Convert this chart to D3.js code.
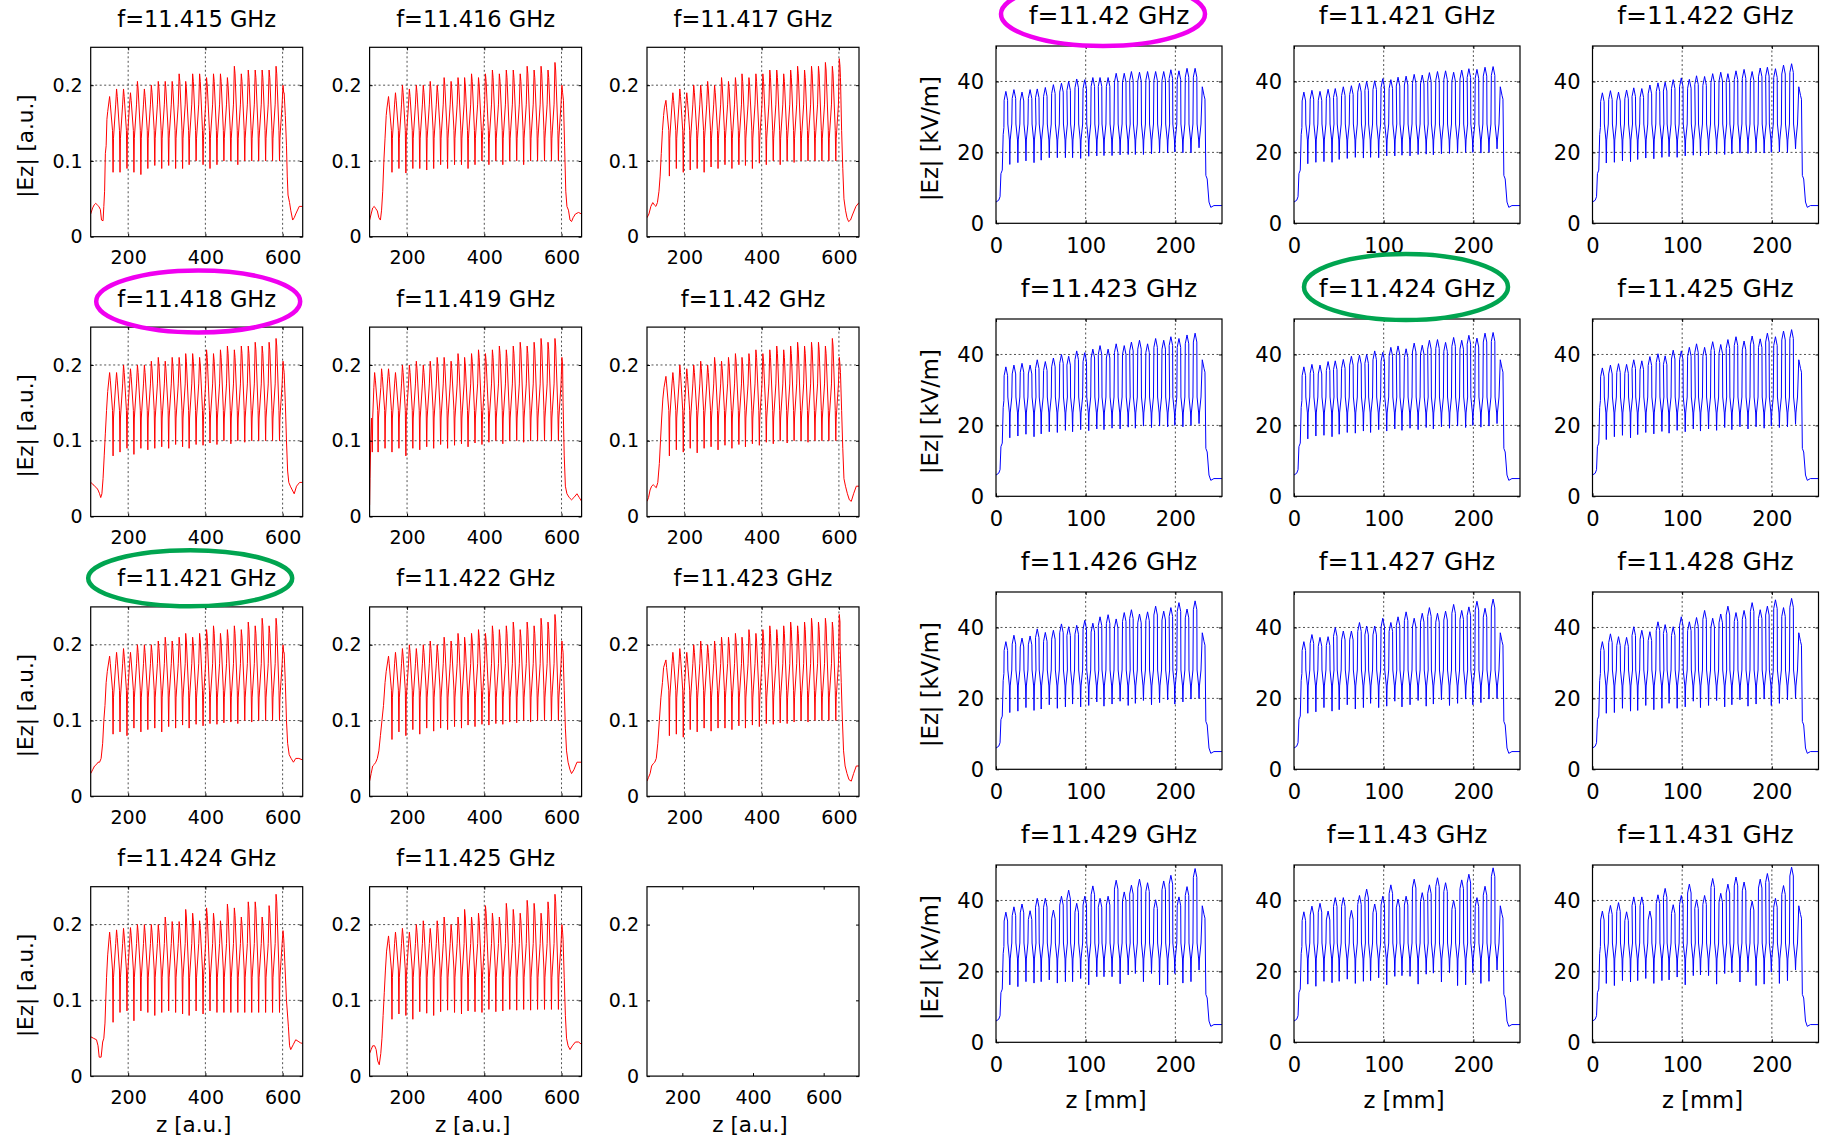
<!DOCTYPE html>
<html><head><meta charset="utf-8">
<script src="https://cdn.jsdelivr.net/npm/d3@7"></script>
<style>
body{margin:0;background:#fff;}
svg{display:block;font-family:"DejaVu Sans",sans-serif;}
</style></head><body>
<svg id="c" width="1828" height="1139"></svg>
<script>
// ---------------- DATA ----------------
const leftFreqs  = [11.415, 11.416, 11.417, 11.418, 11.419, 11.42, 11.421, 11.422, 11.423, 11.424, 11.425];
const rightFreqs = [11.42, 11.421, 11.422, 11.423, 11.424, 11.425, 11.426, 11.427, 11.428, 11.429, 11.43, 11.431];
const leftXTicks = [200, 400, 600];
const leftYTicks = [0, 0.1, 0.2];
const rightXTicks = [0, 100, 200];
const rightYTicks = [0, 20, 40];
const leftXDomain = [103, 652];
const emptyXDomain = [100, 700];
const leftYDomain = [0, 0.25];
const rightXDomain = [0, 252];
const rightYDomain = [0, 50];
const leftHighlights = {"11.418": "#f000f0", "11.421": "#00a550"};
const rightHighlights = {"11.42": "#f000f0", "11.424": "#00a550"};

// z positions of the field peaks (cells)
const redPeakZ  = [152,170,188,206,224,242,260,278,296,314,332,349,367,385,403,421,439,457,475,493,511,529,547,565,583,601];
const bluePeakZ = [11,20,29,38,46,55,64,73,81,90,99,108,116,125,134,143,151,160,169,178,187,195,204,213,222];

const redPeaks = [
 [0.185,0.195,0.195,0.19,0.205,0.195,0.2,0.205,0.205,0.205,0.215,0.205,0.215,0.215,0.21,0.215,0.215,0.21,0.225,0.215,0.22,0.22,0.22,0.22,0.225,0.2],
 [0.185,0.19,0.2,0.195,0.2,0.2,0.205,0.2,0.21,0.205,0.21,0.21,0.215,0.21,0.215,0.22,0.215,0.22,0.22,0.215,0.225,0.22,0.225,0.22,0.23,0.2],
 [0.18,0.19,0.195,0.19,0.2,0.2,0.205,0.2,0.21,0.205,0.21,0.215,0.21,0.215,0.215,0.22,0.22,0.215,0.22,0.225,0.22,0.225,0.225,0.23,0.225,0.235],
 [0.19,0.19,0.2,0.195,0.2,0.2,0.205,0.21,0.205,0.21,0.21,0.215,0.215,0.21,0.22,0.215,0.22,0.225,0.22,0.225,0.225,0.23,0.225,0.23,0.235,0.205],
 [0.195,0.19,0.2,0.2,0.205,0.2,0.205,0.21,0.21,0.205,0.215,0.21,0.215,0.22,0.215,0.22,0.225,0.22,0.225,0.23,0.225,0.23,0.235,0.23,0.235,0.21],
 [0.185,0.19,0.2,0.195,0.2,0.205,0.2,0.21,0.205,0.21,0.215,0.21,0.215,0.22,0.215,0.22,0.225,0.22,0.225,0.23,0.225,0.23,0.23,0.225,0.235,0.21],
 [0.185,0.19,0.195,0.19,0.2,0.2,0.2,0.205,0.21,0.205,0.21,0.215,0.21,0.215,0.22,0.225,0.215,0.22,0.225,0.22,0.23,0.225,0.235,0.225,0.235,0.2],
 [0.185,0.19,0.195,0.2,0.195,0.2,0.205,0.2,0.21,0.205,0.215,0.21,0.215,0.22,0.215,0.225,0.22,0.225,0.23,0.22,0.23,0.225,0.235,0.23,0.24,0.205],
 [0.18,0.19,0.195,0.19,0.2,0.205,0.2,0.205,0.21,0.21,0.215,0.21,0.22,0.215,0.22,0.225,0.22,0.225,0.23,0.225,0.23,0.235,0.23,0.235,0.23,0.24],
 [0.19,0.193,0.195,0.196,0.2,0.2,0.2,0.2,0.21,0.204,0.204,0.22,0.215,0.205,0.222,0.215,0.205,0.227,0.222,0.21,0.23,0.23,0.21,0.225,0.24,0.192],
 [0.185,0.19,0.195,0.19,0.2,0.205,0.195,0.205,0.21,0.2,0.21,0.22,0.21,0.215,0.225,0.215,0.21,0.228,0.22,0.215,0.232,0.228,0.215,0.23,0.24,0.2]
];
const redTroughs = [
 [0.085,0.085,0.09,0.085,0.082,0.09,0.094,0.09,0.094,0.09,0.09,0.095,0.1,0.095,0.09,0.095,0.1,0.1,0.095,0.1,0.1,0.1,0.1,0.1,0.1],
 [0.085,0.09,0.084,0.09,0.09,0.088,0.09,0.095,0.09,0.095,0.095,0.09,0.095,0.1,0.095,0.1,0.095,0.1,0.1,0.095,0.1,0.1,0.1,0.1,0.1],
 [0.08,0.09,0.085,0.088,0.09,0.085,0.092,0.09,0.095,0.09,0.095,0.094,0.09,0.097,0.095,0.1,0.095,0.1,0.098,0.1,0.1,0.1,0.1,0.1,0.1],
 [0.08,0.085,0.09,0.082,0.09,0.088,0.09,0.092,0.09,0.095,0.092,0.09,0.095,0.094,0.097,0.095,0.1,0.096,0.1,0.098,0.1,0.1,0.1,0.1,0.1],
 [0.085,0.09,0.08,0.09,0.088,0.092,0.09,0.095,0.09,0.094,0.096,0.092,0.097,0.095,0.098,0.1,0.096,0.1,0.1,0.098,0.1,0.1,0.1,0.1,0.1],
 [0.08,0.088,0.085,0.09,0.084,0.09,0.092,0.088,0.094,0.09,0.095,0.092,0.096,0.094,0.098,0.096,0.1,0.097,0.1,0.1,0.098,0.1,0.1,0.1,0.1],
 [0.082,0.085,0.08,0.09,0.085,0.088,0.09,0.085,0.092,0.09,0.094,0.09,0.095,0.093,0.096,0.095,0.097,0.098,0.096,0.1,0.098,0.1,0.1,0.1,0.1],
 [0.075,0.085,0.08,0.088,0.082,0.09,0.086,0.09,0.088,0.092,0.09,0.094,0.092,0.095,0.094,0.096,0.095,0.098,0.097,0.1,0.098,0.1,0.1,0.1,0.1],
 [0.08,0.082,0.078,0.088,0.085,0.09,0.086,0.09,0.09,0.088,0.093,0.09,0.094,0.092,0.096,0.095,0.097,0.096,0.098,0.1,0.098,0.1,0.1,0.1,0.1],
 [0.071,0.084,0.086,0.073,0.086,0.084,0.08,0.084,0.086,0.084,0.082,0.08,0.086,0.082,0.086,0.084,0.084,0.084,0.084,0.084,0.084,0.084,0.084,0.084,0.084],
 [0.075,0.082,0.08,0.075,0.085,0.083,0.08,0.085,0.087,0.084,0.082,0.086,0.085,0.084,0.088,0.085,0.086,0.088,0.087,0.088,0.087,0.088,0.088,0.088,0.088]
];
const redHeads = [
 [[103,0.03],[108,0.038],[112,0.042],[116,0.044],[120,0.042],[124,0.04],[128,0.036],[131,0.022],[135,0.021],[137,0.04],[139,0.06],[141,0.11],[143,0.12],[145,0.155],[147,0.165]],
 [[103,0.022],[107,0.03],[111,0.038],[115,0.04],[119,0.037],[123,0.034],[127,0.025],[131,0.022],[134,0.035],[137,0.06],[140,0.1],[143,0.13],[146,0.16],[148,0.17]],
 [[103,0.025],[108,0.03],[113,0.04],[118,0.045],[122,0.042],[126,0.04],[130,0.045],[134,0.06],[137,0.08],[140,0.11],[143,0.14],[146,0.16],[148,0.17]],
 [[103,0.045],[108,0.043],[113,0.04],[118,0.038],[122,0.035],[126,0.03],[129,0.025],[132,0.03],[135,0.05],[138,0.08],[141,0.11],[144,0.14],[147,0.165]],
 [[103,0.015],[104,0.05],[106,0.1],[108,0.13],[110,0.085],[111,0.13],[114,0.17],[116,0.19],[118,0.18],[124,0.14],[125,0.085],[126,0.13],[132,0.17],[134,0.195],[136,0.185],[142,0.14],[143,0.09],[144,0.13],[149,0.175]],
 [[103,0.02],[107,0.025],[111,0.035],[115,0.04],[119,0.042],[123,0.04],[127,0.038],[131,0.045],[135,0.07],[138,0.1],[141,0.13],[144,0.155],[147,0.17]],
 [[103,0.03],[108,0.035],[113,0.04],[118,0.042],[122,0.045],[126,0.045],[130,0.05],[134,0.07],[137,0.1],[140,0.12],[143,0.15],[146,0.165]],
 [[103,0.02],[107,0.03],[111,0.04],[115,0.042],[119,0.045],[123,0.05],[127,0.06],[131,0.08],[135,0.1],[139,0.12],[143,0.15],[146,0.165]],
 [[103,0.02],[107,0.025],[111,0.03],[115,0.04],[119,0.043],[123,0.045],[127,0.05],[131,0.07],[135,0.1],[139,0.13],[143,0.15],[146,0.17]],
 [[103,0.052],[110,0.05],[118,0.048],[122,0.04],[125,0.025],[130,0.025],[134,0.045],[137,0.05],[140,0.07],[142,0.1],[144,0.13],[147,0.16]],
 [[103,0.03],[107,0.035],[111,0.04],[116,0.04],[120,0.035],[124,0.02],[128,0.015],[132,0.03],[135,0.05],[138,0.08],[141,0.11],[144,0.14],[147,0.165]]
];
const redTails = [
 [[604,0.19],[607,0.16],[610,0.12],[612,0.08],[614,0.055],[618,0.045],[621,0.035],[626,0.022],[630,0.025],[634,0.03],[643,0.04],[652,0.04]],
 [[605,0.18],[608,0.12],[611,0.06],[614,0.04],[618,0.035],[622,0.022],[626,0.02],[630,0.025],[636,0.03],[644,0.032],[652,0.03]],
 [[604,0.21],[607,0.14],[610,0.09],[613,0.05],[617,0.035],[621,0.025],[625,0.02],[630,0.022],[636,0.03],[644,0.04],[652,0.045]],
 [[604,0.19],[607,0.15],[610,0.1],[613,0.06],[616,0.045],[620,0.04],[625,0.035],[630,0.03],[636,0.04],[644,0.045],[652,0.045]],
 [[604,0.15],[607,0.08],[610,0.04],[614,0.03],[620,0.025],[626,0.022],[632,0.025],[640,0.03],[646,0.025],[652,0.02]],
 [[604,0.19],[607,0.14],[610,0.09],[613,0.05],[617,0.04],[622,0.03],[627,0.022],[632,0.02],[638,0.03],[645,0.04],[652,0.04]],
 [[604,0.19],[607,0.15],[610,0.1],[613,0.07],[617,0.055],[622,0.05],[628,0.045],[634,0.05],[642,0.05],[652,0.048]],
 [[604,0.19],[607,0.14],[610,0.09],[613,0.06],[617,0.045],[622,0.035],[626,0.03],[632,0.035],[640,0.045],[652,0.045]],
 [[603,0.2],[606,0.15],[609,0.1],[612,0.06],[616,0.04],[621,0.03],[626,0.022],[632,0.02],[638,0.03],[645,0.04],[652,0.04]],
 [[604,0.17],[610,0.1],[615,0.065],[618,0.04],[621,0.035],[628,0.042],[634,0.048],[640,0.046],[646,0.044],[652,0.043]],
 [[604,0.18],[607,0.13],[610,0.08],[613,0.05],[617,0.04],[622,0.035],[628,0.04],[636,0.045],[644,0.045],[652,0.042]]
];

const bluePeaks = [
 [37.2,37.7,37,37.7,37.9,38.3,39.1,39.5,40,40.7,40.5,41.1,41.1,41.1,42.3,42.3,42.8,42.6,42.8,42.8,42.8,43.3,43,43.7,43.7],
 [37,37.5,37.2,37.8,38,38.5,38.8,39.5,40,40.2,40.8,40.5,41.2,41.5,42,41.8,42.5,42.8,43,42.6,43.2,43.6,43.4,44,44.2],
 [36.8,37.4,37,37.6,38.2,38,39,39.6,39.8,40.5,41,40.6,41.6,41.4,42.2,42.6,42.2,43,43.4,42.8,43.8,44,43.6,44.6,45],
 [36.5,37,37.5,37,38.5,38,39,40,39.5,41,40.5,41.5,42.5,41.5,43,42.5,43.5,44,43,44.5,44,45,44.5,45.5,46],
 [36.5,37.2,37,38,38.2,38.6,39.5,39.8,40,41,40.6,42,42.4,41.6,43.2,42.6,44,44.2,43.4,44.8,44,45.4,44.6,46,46.2],
 [36.2,37,37.4,37.2,38.5,38.2,39.4,40.2,39.6,41.2,41,42,43,42,43.6,42.8,44.2,45,43.8,45.2,44.4,46,45,46.6,47],
 [36,37.8,37,37.6,39.6,38.6,39.2,41,40.2,40.6,42,41.2,43,43.6,42.4,44.2,45,43.8,44.4,46,44.6,45.6,47,45.2,47.5],
 [36,38,37.2,37.4,40,39,39,41.4,40.4,40.4,42.6,41.4,43,44.4,42.6,44,45.6,44,44.6,46.5,44.8,45.8,47.4,45.4,48],
 [36,38.2,37.4,37.2,40.2,39.2,38.8,41.6,40.8,40.2,43,41.6,42.8,44.8,42.6,43.8,46,44.2,44.8,47,45,46,47.8,45.6,48.2],
 [36.7,38.2,39,37.1,40.6,40.6,37.3,41.2,42.9,39.2,41.2,44.1,40.6,41.2,45.7,42.4,44.3,46,45,40.2,45.5,47.1,41,43.9,49],
 [36.8,38.4,39.2,37,40.8,40.8,37.2,41.4,43.2,39,41.2,44.4,40.4,41.2,46,42.2,44.4,46.4,45,40,45.8,47.4,40.8,44,49.2],
 [37,38.6,39.4,36.8,41,41,37,41.6,43.4,38.8,41.4,44.6,40.2,41.4,46.2,42,44.6,46.6,45.2,39.8,46,47.6,40.6,44.2,49.4]
];
const blueTroughs = [
 [16.6,17.1,17.6,17.1,17.8,18.5,18.5,18.5,18.5,18.3,18.9,19,19.1,19.1,19.3,19.4,19.4,19.4,19.6,19.9,19.9,20.1,19.9,19.9,21.3],
 [16.8,17.2,17.4,17.2,18,18.3,18.6,18.4,18.6,18.5,19,19,19.2,19,19.4,19.5,19.3,19.6,19.7,19.8,20,20,19.8,20,21],
 [17,17.2,17.6,17.4,18,18.4,18.2,18.6,18.8,18.6,19,19.2,19,19.3,19.5,19.4,19.6,19.8,19.7,20,19.8,20,20.1,20,21],
 [16.5,17,17.5,16.8,17.6,18.2,18,18.6,18.2,18.8,18.5,19,18.8,19.2,19,19.5,19.2,19.8,19.4,19.8,19.6,20,19.6,20,20.5],
 [16.2,17,17.2,16.8,17.5,18,17.8,18.4,18,18.8,18.4,19,18.6,19.2,18.8,19.4,19,19.6,19.2,19.8,19.4,20,19.5,19.8,20.5],
 [16,16.8,17.2,16.5,17.4,18,17.6,18.3,17.8,18.6,18.2,19,18.4,19,18.6,19.4,18.8,19.6,19,19.6,19.2,19.8,19.4,19.6,20.3],
 [16,16.4,17.4,16.6,17,18.2,17.2,17.6,18.4,17.6,18,19,17.8,18.4,19.2,18,18.6,19.4,18.2,18.8,19.6,18.4,19,19.8,20],
 [15.8,16.2,17.4,16.4,16.8,18.2,17,17.4,18.6,17.4,17.8,19.2,17.6,18.2,19.4,17.8,18.4,19.6,18,18.6,19.8,18.2,18.8,19.8,20],
 [15.8,16,17.2,16.4,16.6,18,16.8,17.2,18.6,17.2,17.6,19.2,17.4,18,19.4,17.6,18.2,19.6,17.8,18.4,19.8,18,18.6,19.6,20],
 [16.2,15.7,17.1,16.7,17.1,17.6,16.7,17.1,17.1,18,16.2,18.5,18.5,18.5,16.5,19,19.4,17.1,19.4,16.2,16.2,19.4,16.7,17.1,20.4],
 [16.4,15.8,17.2,16.8,17.2,17.8,16.6,17.2,17.4,18.2,16.2,18.6,18.8,18.6,16.4,19.2,19.5,17,19.6,16,16.2,19.6,16.6,17.2,20.4],
 [16.6,16,17.4,17,17.4,18,16.6,17.4,17.6,18.4,16.2,18.8,19,18.8,16.4,19.4,19.6,17,19.8,16,16.4,19.8,16.6,17.4,20.4]
];
const blueHead = [[0,6],[3,6.5],[4.5,7.5],[5.5,14],[7,15],[8,25],[8.8,27]];
const blueTail = [[230,38.5],[232,36],[233,35],[234,13.5],[235.5,12.5],[237.5,6],[239.5,4.5],[243,5],[252,5]];

// ---------------- BUILD POLYLINES ----------------
function buildRed(i){
  const P = 17.9, pk = redPeaks[i], tr = redTroughs[i];
  const pts = redHeads[i].slice();
  redPeakZ.forEach((zp, k) => {
    pts.push([zp, pk[k]]);
    pts.push([zp + 0.1*P, pk[k] - 0.01]);
    if (k < redPeakZ.length - 1) {
      pts.push([zp + 0.42*P, 0.14]);
      pts.push([zp + 0.5*P, tr[k]]);
      pts.push([zp + 0.56*P, 0.13]);
      pts.push([zp + 0.88*P, 0.175]);
    }
  });
  return pts.concat(redTails[i]);
}
function buildBlue(i){
  const P = 8.8, pk = bluePeaks[i], tr = blueTroughs[i];
  const pts = blueHead.slice();
  bluePeakZ.forEach((zp, k) => {
    pts.push([zp - 0.22*P, pk[k] - 2.5]);
    pts.push([zp, pk[k]]);
    pts.push([zp + 0.22*P, pk[k] - 2.5]);
    pts.push([zp + 0.25*P, 28]);
    pts.push([zp + 0.45*P, 23.5]);
    pts.push([zp + 0.5*P, tr[k]]);
    pts.push([zp + 0.55*P, 23.5]);
    pts.push([zp + 0.75*P, 28]);
  });
  return pts.concat(blueTail);
}

// ---------------- LAYOUT ----------------
const svg = d3.select("#c");
const LEFT  = {xs:[90.7,369.6,647], ys:[47.3,327.1,606.9,886.7], w:212, h:189.4,
  tick:19, title:22.5, lab:21.5, titleOff:20.6, xPad:14, yPad:8, yLabX:-57.7, xLabY:56};
const RIGHT = {xs:[996,1294,1592.5], ys:[46,319,592,865], w:226, h:177.3,
  tick:21, title:25, lab:22.7, titleOff:22, xPad:15, yPad:12, yLabX:-58, xLabY:66};
// ring annotation offsets relative to the title (dx, dy, ry)
const ringGeom = {
  "L11.418": [1.5, -5, 31], "L11.421": [-6.5, -8, 28],
  "R11.42": [-6, -10, 32], "R11.424": [-1, -10, 33]
};

let clipId = 0;
function panel(L, col, row, o){
  const g = svg.append("g").attr("transform", `translate(${L.xs[col]},${L.ys[row]})`);
  const x = d3.scaleLinear().domain(o.xDomain).range([0, L.w]);
  const y = d3.scaleLinear().domain(o.yDomain).range([L.h, 0]);
  const id = "clip" + (clipId++);
  g.append("clipPath").attr("id", id).append("rect").attr("width", L.w).attr("height", L.h);

  if (o.data) {
    const grid = g.append("g").attr("stroke", "#000").attr("stroke-width", 0.8)
      .attr("stroke-dasharray", "2,2.5").attr("opacity", 0.85);
    o.xTicks.forEach(t => { if (x(t) > 1 && x(t) < L.w - 1)
      grid.append("line").attr("x1", x(t)).attr("x2", x(t)).attr("y1", 0).attr("y2", L.h); });
    o.yTicks.forEach(t => { if (y(t) > 1 && y(t) < L.h - 1)
      grid.append("line").attr("x1", 0).attr("x2", L.w).attr("y1", y(t)).attr("y2", y(t)); });
    g.append("path").attr("clip-path", `url(#${id})`)
      .attr("d", d3.line().x(d => x(d[0])).y(d => y(d[1]))(o.data))
      .attr("fill", "none").attr("stroke", o.color).attr("stroke-width", 1)
      .attr("stroke-linejoin", "round");
  }
  const ax = (gen, tr, labels) => {
    const a = g.append("g").attr("transform", tr).call(gen);
    a.select(".domain").remove();
    a.selectAll(".tick line").attr("stroke", "#000").attr("stroke-width", 1);
    a.attr("font-size", L.tick).attr("font-family", "DejaVu Sans, sans-serif");
    a.selectAll("text").attr("fill", "#000");
    if (!labels) a.selectAll("text").remove();
    return a;
  };
  ax(d3.axisBottom(x).tickValues(o.xTicks).tickSize(-3).tickPadding(L.xPad), `translate(0,${L.h})`, true);
  ax(d3.axisTop(x).tickValues(o.xTicks).tickSize(-3), `translate(0,0)`, false);
  ax(d3.axisLeft(y).tickValues(o.yTicks).tickSize(-3).tickPadding(L.yPad).tickFormat(d => String(d)), `translate(0,0)`, true);
  ax(d3.axisRight(y).tickValues(o.yTicks).tickSize(-3), `translate(${L.w},0)`, false);
  g.append("rect").attr("width", L.w).attr("height", L.h).attr("fill", "none")
    .attr("stroke", "#000").attr("stroke-width", 1.2);

  if (o.title) {
    g.append("text").attr("x", L.w/2).attr("y", -L.titleOff).attr("text-anchor", "middle")
      .attr("font-size", L.title).attr("fill", "#000").text(o.title);
    if (o.ring) {
      const [dx, dy, ry] = o.ringGeom;
      g.append("ellipse").attr("cx", L.w/2 + dx).attr("cy", -L.titleOff + dy)
        .attr("rx", 102).attr("ry", ry).attr("fill", "none")
        .attr("stroke", o.ring).attr("stroke-width", 4.5);
    }
  }
  if (o.yLabel) {
    g.append("text").attr("transform", `translate(${L.yLabX},${L.h/2 + 4}) rotate(-90)`)
      .attr("text-anchor", "middle").attr("font-size", L.lab).attr("fill", "#000").text(o.yLabel);
  }
  if (o.xLabel) {
    g.append("text").attr("x", L.w/2 - 3).attr("y", L.h + L.xLabY).attr("text-anchor", "middle")
      .attr("font-size", L.lab).attr("fill", "#000").text(o.xLabel);
  }
}

// left panel (red)
for (let i = 0; i < 12; i++) {
  const col = i % 3, row = Math.floor(i / 3);
  const has = i < leftFreqs.length;
  const key = has ? String(leftFreqs[i]) : null;
  panel(LEFT, col, row, {
    xDomain: has ? leftXDomain : emptyXDomain, yDomain: leftYDomain,
    xTicks: leftXTicks, yTicks: leftYTicks,
    data: has ? buildRed(i) : null, color: "#ff0000",
    title: has ? `f=${leftFreqs[i]} GHz` : null,
    ring: has ? leftHighlights[key] : null, ringGeom: ringGeom["L" + key],
    yLabel: col === 0 ? "|Ez| [a.u.]" : null,
    xLabel: row === 3 ? "z [a.u.]" : null
  });
}
// right panel (blue)
for (let i = 0; i < rightFreqs.length; i++) {
  const col = i % 3, row = Math.floor(i / 3);
  const key = String(rightFreqs[i]);
  panel(RIGHT, col, row, {
    xDomain: rightXDomain, yDomain: rightYDomain,
    xTicks: rightXTicks, yTicks: rightYTicks,
    data: buildBlue(i), color: "#0000ff",
    title: `f=${rightFreqs[i]} GHz`,
    ring: rightHighlights[key], ringGeom: ringGeom["R" + key],
    yLabel: col === 0 ? "|Ez| [kV/m]" : null,
    xLabel: row === 3 ? "z [mm]" : null
  });
}
</script>
</body></html>
